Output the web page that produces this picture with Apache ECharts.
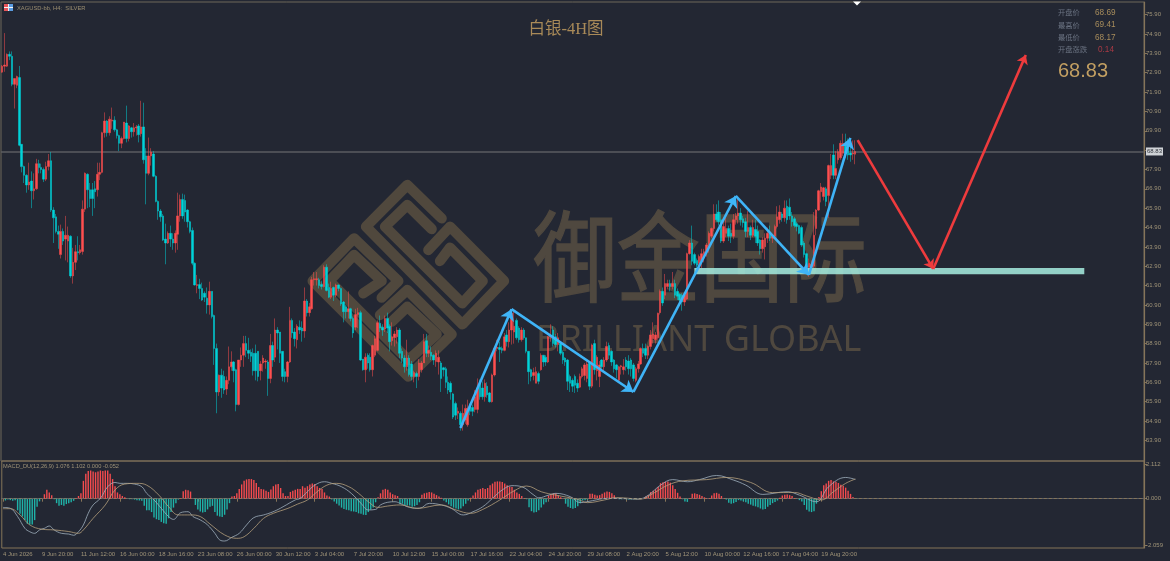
<!DOCTYPE html>
<html><head><meta charset="utf-8">
<style>html,body{margin:0;padding:0;background:#232733}#c{width:1170px;height:561px}</style>
<script src="https://cdn.jsdelivr.net/npm/echarts@6/dist/echarts.min.js"></script>
</head><body><div id="c"></div>
<script>
// open, close, low, high for each H4 bar
const candles=[
[72.93,73.24,72.9,73.3],[73.24,73.3,72.95,74.95],[73.24,73.85,73.2,73.9],[73.85,73.75,73.55,74.0],[73.75,72.3,72.2,74.0],
[72.3,72.6,71.05,72.6],[72.25,72.7,72.1,72.75],[72.65,69.15,69.1,73.25],[69.2,68.05,67.75,69.2],[68.05,67.6,67.2,68.1],
[67.6,67.1,66.7,67.65],[67.1,67.25,66.85,68.25],[67.3,66.8,65.9,67.8],[66.8,66.9,66.35,67.7],[66.9,68.2,66.85,68.45],
[68.2,68.0,67.7,68.4],[68.0,67.9,67.7,68.2],[67.9,67.4,67.25,68.0],[67.4,68.05,67.3,68.3],[68.05,68.35,67.85,68.7],
[68.35,65.8,65.7,68.8],[65.8,65.4,64.1,65.95],[65.45,64.7,64.6,65.6],[64.7,64.55,63.8,65.0],[63.5,64.7,63.3,65.05],
[64.7,64.2,64.0,64.85],[64.3,64.5,63.2,65.5],[64.2,64.5,63.1,64.95],[64.45,62.4,62.3,64.5],[62.4,63.1,62.0,63.85],
[63.1,63.65,62.7,64.0],[63.65,63.6,63.2,64.45],[63.6,63.75,63.5,64.0],[63.66,65.85,63.5,66.3],[65.85,67.7,65.7,67.75],
[67.65,66.85,65.9,67.7],[66.85,66.4,65.95,67.2],[66.85,66.4,65.5,67.2],[66.9,66.75,65.9,67.3],[66.85,67.65,66.5,68.25],
[67.65,67.75,67.35,68.25],[67.75,69.8,67.7,69.85],[69.8,70.4,69.55,70.85],[70.4,69.8,69.6,70.45],[69.8,70.5,69.65,70.65],
[70.4,70.45,70.0,71.1],[70.45,69.95,69.85,70.65],[69.95,69.65,69.5,70.0],[69.65,69.25,68.85,69.7],[69.25,69.5,69.0,69.6],
[69.5,70.35,69.45,70.35],[70.3,69.5,69.3,71.2],[69.5,70.15,69.35,70.2],[70.05,69.85,69.55,70.1],[69.85,70.05,69.6,70.3],
[70.05,70.1,69.65,70.2],[70.15,69.7,69.3,70.25],[69.75,70.1,69.6,71.45],[70.1,68.4,68.2,71.35],[68.6,67.7,66.1,69.0],
[67.7,68.6,67.6,69.55],[68.6,68.8,68.1,69.0],[68.7,67.55,67.5,68.85],[67.55,66.25,66.2,67.6],[66.25,65.75,65.3,66.3],
[65.75,65.45,65.2,65.85],[65.5,64.25,64.2,65.6],[64.3,64.1,63.0,65.1],[64.1,64.6,64.05,64.7],[64.6,64.3,63.9,65.0],
[64.3,64.1,63.75,64.6],[64.1,64.6,63.6,64.75],[64.55,65.5,63.75,66.7],[65.5,66.35,65.2,66.6],[66.35,65.5,65.35,66.65],
[66.3,65.7,65.2,66.6],[65.8,65.2,64.9,65.85],[65.2,64.7,64.6,65.25],[64.75,63.05,62.95,64.9],[63.05,61.93,61.9,63.1],
[61.9,61.95,61.5,62.45],[61.95,61.75,61.2,62.25],[61.75,61.15,61.1,62.05],[61.5,61.3,61.05,61.6],[61.25,60.9,60.45,61.8],
[60.9,61.6,60.4,62.1],[61.6,60.3,60.2,61.6],[60.35,58.65,57.8,60.4],[58.65,56.4,55.3,58.9],[56.4,57.27,56.2,57.3],
[57.27,56.6,56.1,57.6],[57.2,56.5,56.3,57.5],[56.55,57.0,56.25,57.2],[57.0,57.7,56.8,58.75],[57.7,57.95,57.5,58.5],
[57.95,57.5,56.9,58.0],[57.55,55.75,55.4,57.6],[55.75,58.05,55.7,58.05],[58.05,58.3,57.7,58.7],[58.3,58.9,57.7,59.3],
[58.9,58.55,58.2,59.3],[58.55,58.4,58.1,59.2],[58.45,58.25,57.95,58.6],[58.4,57.5,57.25,58.65],[58.4,57.5,57.0,58.85],
[58.5,57.2,56.95,58.5],[57.5,57.85,57.0,58.0],[57.9,58.15,57.45,58.3],[57.95,58.0,57.6,58.1],[57.95,57.1,56.2,58.05],
[57.1,58.8,56.85,59.4],[58.8,58.05,57.7,59.0],[58.2,59.6,57.95,60.2],[59.6,59.45,58.6,59.75],[59.5,58.4,57.9,59.5],
[58.5,57.2,56.95,58.5],[57.45,57.2,56.9,57.6],[57.2,57.95,56.9,58.0],[57.95,60.1,57.9,60.8],[60.1,59.45,59.2,60.2],
[59.5,59.15,58.75,59.7],[59.1,59.8,58.65,59.9],[59.75,59.6,59.4,60.1],[59.7,59.55,59.0,60.05],[59.55,61.1,59.2,61.8],
[61.1,60.5,60.3,61.2],[60.5,60.8,60.3,61.0],[60.7,62.2,60.65,62.35],[62.2,62.25,61.9,62.6],[62.2,62.25,61.9,62.6],
[62.2,61.9,61.75,62.3],[61.95,61.85,61.7,62.15],[61.85,62.85,61.8,62.95],[62.85,61.65,61.6,63.0],[61.8,61.3,61.25,62.0],
[61.3,61.75,61.2,62.1],[61.8,61.4,61.1,61.85],[61.4,61.93,61.3,62.0],[61.93,61.75,61.6,61.95],[61.75,60.95,60.85,61.8],
[61.05,60.55,60.0,61.1],[60.8,60.55,60.2,60.9],[60.55,60.7,60.2,61.6],[60.7,60.2,60.05,60.75],[60.2,59.45,59.2,60.3],
[59.75,60.4,59.6,60.7],[60.4,60.5,59.7,60.75],[60.5,58.05,58.0,60.6],[58.1,57.55,57.5,58.1],[57.55,58.2,56.9,58.4],
[58.3,57.9,57.6,58.4],[58.2,57.55,57.45,58.4],[57.55,58.8,57.2,58.85],[58.3,59.15,58.2,59.3],[58.55,59.98,58.5,60.1],
[59.95,59.7,59.5,60.35],[59.75,59.6,59.3,59.9],[59.65,60.2,59.5,60.35],[60.2,59.7,59.45,60.5],[59.8,59.0,58.5,59.9],
[59.05,59.25,58.8,60.0],[59.2,59.4,58.75,59.55],[59.25,59.6,58.9,59.75],[59.6,58.4,58.15,59.7],[58.5,58.15,57.9,58.65],
[58.15,57.7,57.4,58.3],[57.7,58.15,57.5,59.1],[58.15,57.3,57.2,58.3],[57.85,57.2,57.0,58.0],[57.2,57.4,56.9,57.5],
[57.35,57.2,56.6,57.45],[57.2,57.9,57.0,58.1],[57.55,57.9,57.4,58.0],[57.9,59.0,57.9,59.4],[59.05,58.4,58.2,59.4],
[58.4,58.55,58.2,58.8],[58.45,58.25,58.05,58.75],[58.3,58.05,57.8,58.35],[57.97,58.4,57.7,58.55],[57.95,58.2,57.3,58.55],
[57.9,57.1,56.4,58.0],[57.65,57.55,57.2,57.7],[57.6,56.9,56.6,57.7],[56.9,56.5,56.3,57.2],[56.85,56.4,56.0,56.95],
[56.3,55.1,55.0,56.35],[55.8,55.2,54.95,55.9],[55.3,55.4,55.0,55.6],[55.3,54.7,54.4,55.4],[54.7,55.3,54.4,55.75],
[54.95,55.55,54.75,55.75],[54.7,55.55,54.6,56.0],[55.65,55.4,55.2,55.8],[55.6,55.4,55.15,55.75],[55.5,56.15,55.35,56.5],
[55.5,56.6,55.3,57.1],[56.95,56.15,56.0,57.05],[56.6,56.15,56.0,56.95],[56.15,56.85,55.9,57.05],[56.7,56.25,56.1,56.9],
[56.35,55.9,55.85,56.4],[55.9,57.28,55.85,57.35],[57.28,58.65,57.2,58.7],[58.65,58.72,58.5,59.1],[58.7,58.6,57.95,59.0],
[58.65,58.55,58.4,58.75],[58.55,59.25,58.5,59.45],[59.35,59.0,58.75,59.6],[59.0,59.6,58.7,60.0],[59.6,60.47,58.85,60.65],
[59.5,59.8,58.9,60.6],[60.1,59.2,59.1,60.2],[59.7,59.1,58.95,59.8],[59.1,59.6,59.0,59.75],[59.6,59.2,59.1,59.7],
[59.2,58.5,58.4,59.2],[58.5,57.45,56.8,58.5],[57.55,57.2,56.95,57.6],[57.25,57.4,57.0,57.65],[56.85,57.45,56.85,57.7],
[57.35,56.95,56.8,57.45],[57.55,58.3,57.5,58.4],[58.3,57.95,57.7,58.3],[58.2,57.95,57.75,58.3],[57.95,59.25,57.9,59.3],
[59.25,59.3,59.0,59.9],[59.6,58.9,58.75,59.8],[59.25,58.85,58.7,59.4],[58.85,59.2,58.5,59.45],[58.9,58.4,58.3,59.0],
[58.45,58.05,57.85,58.55],[58.15,57.95,57.75,58.2],[58.05,56.95,56.5,58.1],[57.2,56.85,56.4,57.3],[57.0,56.7,56.4,57.1],
[57.2,56.75,56.35,57.3],[56.85,56.6,56.4,57.05],[56.65,57.2,56.6,57.35],[57.2,57.6,57.1,57.7],[57.25,57.8,57.0,57.9],
[57.1,57.85,56.9,58.0],[57.88,56.7,56.5,57.95],[56.7,58.83,56.6,58.9],[58.9,57.55,57.3,59.1],[57.5,58.2,57.0,58.3],
[57.2,57.8,56.65,58.0],[58.05,57.7,57.5,58.1],[57.7,58.05,57.5,58.2],[58.05,58.75,57.95,59.0],[58.8,58.3,58.1,58.95],
[58.5,57.95,57.75,58.55],[58.05,57.6,57.4,58.1],[57.8,57.55,57.1,57.85],[57.0,57.7,56.9,57.75],[57.7,57.75,57.3,57.8],
[57.55,57.7,57.3,58.1],[58.05,57.7,57.5,58.2],[58.0,57.6,57.3,58.3],[58.05,57.6,57.2,58.15],[57.8,57.1,56.95,57.9],
[57.0,57.6,56.9,57.7],[57.6,57.85,57.4,58.0],[57.85,58.65,57.8,58.7],[58.65,58.4,58.2,58.9],[58.65,58.3,58.1,58.9],
[58.3,58.75,58.1,58.8],[58.75,59.35,58.6,59.6],[59.15,59.4,58.9,60.0],[59.1,59.35,58.9,59.5],[59.2,60.47,59.1,60.5],
[60.5,61.6,60.4,61.7],[61.6,61.0,60.85,61.8],[61.4,62.0,61.2,62.5],[61.85,62.0,61.7,62.2],[62.0,61.85,61.6,62.2],
[61.85,62.0,61.7,62.6],[62.0,61.4,61.25,62.2],[61.6,61.35,61.15,61.75],[61.45,61.15,60.85,61.5],[61.4,61.05,60.6,61.5],
[61.05,61.4,60.85,61.5],[61.2,63.55,61.15,63.6],[63.55,64.1,63.5,64.25],[64.1,63.15,62.95,65.0],[63.5,63.05,62.95,63.6],
[63.2,62.95,62.7,63.3],[63.05,63.4,62.9,63.5],[63.15,63.55,62.8,63.8],[63.5,63.65,63.1,63.8],[63.65,64.0,63.4,64.1],
[64.0,64.6,63.6,64.7],[64.45,64.85,64.35,64.9],[64.85,65.6,64.7,66.1],[65.6,65.3,65.2,66.1],[65.7,65.2,65.0,66.3],
[65.3,64.2,64.1,65.7],[64.2,64.95,64.1,65.4],[64.6,64.85,64.4,65.4],[64.85,64.45,64.2,65.0],[64.6,64.45,64.1,65.1],
[64.45,65.3,64.3,65.6],[65.3,65.5,65.05,65.65],[65.5,65.65,65.1,66.4],[65.65,65.3,65.0,65.9],[65.35,65.15,64.9,65.5],
[65.2,64.7,64.4,65.4],[64.7,64.9,64.4,65.75],[64.9,64.5,64.25,65.0],[64.5,64.9,64.4,65.3],[64.8,64.45,64.1,65.3],
[64.7,64.1,63.95,65.0],[64.25,63.8,63.5,64.3],[63.8,64.25,63.6,64.4],[63.9,64.35,63.25,64.6],[64.35,64.6,64.1,64.9],
[64.6,64.35,64.2,65.0],[64.35,64.45,64.1,64.55],[64.45,64.95,64.3,65.05],[64.95,65.45,64.85,66.0],[65.3,65.7,65.1,66.05],
[65.6,65.4,65.2,65.7],[65.4,65.9,65.2,66.3],[66.0,65.3,65.1,66.3],[65.95,65.5,65.3,66.4],[65.5,65.2,64.95,65.7],
[65.35,65.0,64.9,65.45],[65.1,64.95,64.7,65.2],[65.0,64.6,64.55,65.05],[64.9,64.0,63.9,65.0],[64.1,63.5,63.35,64.2],
[63.55,62.85,62.6,63.6],[62.85,63.05,62.35,63.3],[62.85,63.0,62.6,63.2],[62.9,64.5,62.8,65.7],[64.85,65.8,64.5,65.85],
[65.8,66.8,65.75,66.85],[66.75,67.0,66.2,67.2],[66.5,66.95,66.3,67.0],[66.9,66.25,66.0,67.0],[66.55,68.1,65.4,68.15],
[67.6,68.1,67.4,68.7],[68.65,67.6,67.4,69.2],[67.6,67.95,67.4,68.85],[68.4,68.82,68.2,68.95],[68.5,69.25,68.4,69.4],
[68.74,69.25,68.6,69.75],[69.25,68.74,68.5,69.75],[69.3,68.65,68.4,69.5],[68.75,68.65,68.3,69.45],[68.7,68.75,68.4,69.4],
[68.69,68.83,68.17,69.41]];

const macdHist=[
-0.02,-0.1,-0.05,-0.08,-0.12,-0.08,-0.65,-0.85,-1.0,-1.2,-1.4,-1.45,-1.45,-1.2,-0.45,-0.15,0.03,0.25,0.5,0.35,
0.2,-0.03,-0.25,-0.4,-0.35,-0.4,-0.3,-0.25,-0.2,-0.12,0.02,0.15,0.3,1.0,1.4,1.55,1.58,1.52,1.48,1.52,
1.58,1.55,1.58,1.58,1.4,1.1,0.7,0.35,0.25,0.15,0.08,-0.02,-0.03,-0.03,-0.05,-0.08,-0.1,-0.12,-0.4,-0.65,
-0.65,-0.75,-1.05,-1.15,-1.2,-1.3,-1.38,-1.4,-1.1,-0.75,-0.5,-0.25,-0.05,0.02,0.42,0.5,0.48,0.4,0.0,-0.35,
-0.6,-0.72,-0.78,-0.75,-0.6,-0.45,-0.4,-0.75,-0.95,-1.0,-1.02,-0.9,-0.6,-0.25,0.12,0.15,0.3,0.55,0.8,1.0,
1.08,1.1,1.1,1.05,0.88,0.65,0.55,0.52,0.45,0.38,0.52,0.7,0.8,0.82,0.6,0.3,0.15,0.15,0.38,0.45,
0.5,0.55,0.55,0.7,0.62,0.7,0.8,0.85,0.82,0.7,0.6,0.55,0.35,0.18,0.12,-0.05,-0.15,-0.28,-0.38,-0.5,
-0.58,-0.62,-0.65,-0.7,-0.72,-0.75,-0.82,-0.85,-0.9,-0.92,-0.75,-0.6,-0.5,-0.2,0.08,0.3,0.5,0.55,0.5,0.35,
0.25,0.2,0.15,-0.28,-0.28,-0.35,-0.38,-0.38,-0.45,-0.42,-0.35,-0.2,0.22,0.3,0.33,0.37,0.35,0.28,0.2,0.12,
0.05,-0.1,-0.2,-0.32,-0.42,-0.5,-0.55,-0.6,-0.55,-0.42,-0.28,-0.1,0.05,0.18,0.35,0.5,0.55,0.6,0.55,0.6,
0.75,0.85,0.95,0.97,0.97,0.93,0.85,0.75,0.68,0.65,0.5,0.35,0.27,0.15,0.03,-0.03,-0.48,-0.7,-0.78,-0.75,
-0.65,-0.5,-0.32,-0.2,0.18,0.25,0.3,0.3,0.18,0.08,0.03,-0.28,-0.45,-0.52,-0.57,-0.52,-0.42,-0.25,-0.1,-0.08,
-0.05,0.28,0.28,0.22,0.18,0.2,0.28,0.35,0.4,0.38,0.3,0.2,0.03,-0.03,-0.03,-0.02,-0.03,-0.04,-0.04,-0.03,
-0.03,-0.02,0.0,0.03,0.12,0.2,0.38,0.45,0.52,0.65,0.87,0.92,0.95,0.97,0.9,0.75,0.55,0.33,0.12,-0.03,
-0.15,-0.18,0.03,0.28,0.3,0.27,0.22,0.15,0.08,0.04,0.03,0.18,0.3,0.33,0.28,0.15,0.03,-0.05,-0.22,-0.28,
-0.25,-0.18,-0.08,-0.1,-0.15,-0.2,-0.28,-0.33,-0.4,-0.43,-0.48,-0.55,-0.6,-0.58,-0.45,-0.35,-0.25,-0.18,-0.1,0.05,
0.18,0.22,0.24,0.2,0.15,0.03,-0.02,-0.08,-0.15,-0.35,-0.62,-0.72,-0.75,-0.7,-0.28,0.1,0.42,0.75,0.85,1.0,
1.05,0.97,0.95,0.88,0.78,0.72,0.62,0.45,0.27,0.1,0.0];

// [bar index, value]
const macdLine=[[0,-0.49],[3,-0.54],[6,-1.0],[9,-1.66],[11,-1.85],[13,-1.94],[15,-1.75],[17,-1.66],[19,-1.53],[21,-1.75],[24,-1.94],[27,-1.98],[29,-2.05],[31,-1.85],[33,-1.47],[35,-0.82],[37,-0.35],[40,0.02],[43,0.67],[46,0.91],[48,0.86],[51,0.86],[54,0.82],[57,0.67],[59,0.3],[62,-0.07],[65,-0.54],[68,-1.0],[70,-1.16],[73,-0.78],[76,-0.73],[78,-1.0],[81,-1.19],[84,-1.47],[87,-1.94],[89,-2.31],[91,-2.37],[94,-2.16],[97,-1.94],[100,-1.47],[103,-1.06],[107,-0.91],[110,-0.78],[113,-0.6],[115,-0.45],[120,-0.07],[122,0.02],[125,0.39],[128,0.76],[132,0.95],[135,0.86],[139,0.67],[143,0.3],[147,-0.26],[150,-0.63],[153,-0.6],[155,-0.35],[158,-0.2],[161,-0.17],[163,-0.26],[167,-0.49],[171,-0.54],[175,-0.26],[180,-0.35],[184,-0.54],[189,-0.91],[193,-0.73],[197,-0.45],[201,0.02],[205,0.49],[209,0.73],[213,0.67],[218,0.2],[220,0.05],[224,0.2],[227,0.3],[233,0.11],[237,-0.22],[242,-0.11],[248,0.02],[256,0],[261,-0.02],[265,0.2],[270,0.76],[275,1.07],[281,0.95],[286,1.07],[293,1.3],[300,1.04],[305,0.76],[312,0.24],[322,0.39],[327,0.2],[334,-0.17],[339,0.67],[346,1.19],[350,1.076]];
const signalLine=[[0,-0.56],[3,-0.56],[7,-0.91],[11,-1.47],[16,-1.71],[21,-1.75],[27,-1.84],[31,-1.94],[33,-1.75],[37,-1.1],[42,-0.35],[46,0.49],[50,0.82],[55,0.86],[59,0.76],[64,0.2],[68,-0.45],[72,-0.91],[77,-0.91],[81,-1.0],[85,-1.42],[91,-2.03],[96,-2.22],[99,-2.13],[103,-1.66],[107,-1.1],[111,-0.82],[117,-0.54],[121,-0.3],[125,-0.07],[129,0.39],[133,0.76],[137,0.86],[142,0.67],[146,0.3],[150,-0.17],[154,-0.49],[158,-0.41],[163,-0.35],[170,-0.54],[180,-0.35],[186,-0.63],[192,-0.82],[197,-0.6],[204,-0.07],[210,0.45],[215,0.71],[221,0.39],[227,0.2],[236,-0.04],[240,-0.22],[247,-0.07],[252,0.06],[262,-0.02],[267,0.3],[273,0.76],[279,1.0],[289,1.07],[297,1.19],[307,0.91],[316,0.34],[325,0.35],[330,0.15],[336,-0.07],[341,0.39],[346,0.86],[350,1.102]];

const xLabels=['4 Jun 2026','9 Jun 20:00','11 Jun 12:00','16 Jun 00:00','18 Jun 16:00','23 Jun 08:00','26 Jun 00:00','30 Jun 12:00','3 Jul 04:00','7 Jul 20:00','10 Jul 12:00','15 Jul 00:00','17 Jul 16:00','22 Jul 04:00','24 Jul 20:00','29 Jul 08:00','2 Aug 20:00','5 Aug 12:00','10 Aug 00:00','12 Aug 16:00','17 Aug 04:00','19 Aug 20:00'];
const barsPerLabel=16, totalSlots=469;
const priceTicks=[53.9,54.9,55.9,56.9,57.9,58.9,59.9,60.9,61.9,62.9,63.9,64.9,65.9,66.9,67.9,68.9,69.9,70.9,71.9,72.9,73.9,74.9,75.9];
const lastPrice=68.83;
const macdTickAt=[1.94,0,-2.59], macdTickText=['2.112','0.000','-2.059'];
const blueWave=[[188,54.54],[209,60.68],[259,56.40],[301,66.53],[331,62.45],[348,69.53]];
const redPlan=[[351,69.42],[382,62.76],[420,73.82]];
const supportZone=[[284,62.81],[444,62.48]];
const infoRows=[['开盘价','68.69'],['最高价','69.41'],['最低价','68.17'],['开盘涨跌','0.14']];
// watermark logo centre lines
const logoPaths=[
[[425,130],[322,30],[198,155],[487,448],[612,318],[450,155],[385,225]],
[[395,162],[322,90],[255,155],[487,385],[548,318],[450,218],[420,258]],
[[240,420],[322,345],[455,478],[325,605],[38,318],[162,190],[295,318],[245,368]],
[[190,355],[245,318],[162,240],[88,318],[325,555],[410,478],[322,395],[275,440]]
];

const cats=[];for(let i=0;i<totalSlots;i++){cats.push(i%barsPerLabel===0?(xLabels[i/barsPerLabel]||''):'');}
const tan='#857459', labelCol='#a09478', cjk='"Noto Sans CJK SC"', lat='"Liberation Sans"', small='Liberation Sans';
const segs=(pts)=>pts.slice(1).map((p,k)=>[{coord:pts[k]},{coord:p}]);
const labelShown=(idx)=>idx%barsPerLabel===0&&!!cats[idx];

const g=[];
g.push({type:'group',x:300,y:175,scaleX:1/3,scaleY:1/3,z:0,silent:true,children:logoPaths.map(p=>({type:'polyline',shape:{points:p},style:{stroke:'#50483d',fill:null,lineWidth:31,lineJoin:'round',lineCap:'round'}}))});
g.push({type:'text',x:533,y:207,scaleY:1.18,z:0,silent:true,style:{text:'御金国际',font:'83.5px '+cjk,fill:'#4f483f',stroke:'#4f483f',lineWidth:1.2,textVerticalAlign:'top'}});
g.push({type:'text',x:536,y:323,z:0,silent:true,style:{text:'BRILLIANT GLOBAL',font:'36px "Noto Sans"',fill:'#4f483f',textVerticalAlign:'top'}});
g.push({type:'text',x:566,y:30,z:20,silent:true,style:{text:'白银-4H图',font:'16.5px "Liberation Serif",'+cjk,fill:'#a98a58',textAlign:'center',textVerticalAlign:'middle'}});
// header flag
g.push({type:'rect',x:4,y:4,z:20,shape:{width:9,height:7},style:{fill:'#e8eef5'}});
g.push({type:'rect',x:4,y:4,z:20,shape:{width:4,height:7},style:{fill:'#e8555a'}});
g.push({type:'rect',x:9,y:4,z:20,shape:{width:4,height:7},style:{fill:'#5a9be0'}});
g.push({type:'rect',x:4,y:7,z:20,shape:{width:9,height:1},style:{fill:'#f4f4f4'}});
g.push({type:'text',x:17,y:8,z:20,style:{text:'XAGUSD-bb, H4:  SILVER',font:'5.8px "'+small+'"',fill:'#9a8d70',textVerticalAlign:'middle'}});
g.push({type:'text',x:3,y:466,z:20,style:{text:'MACD_DU(12,26,9) 1.076 1.102 0.000 -0.052',font:'5.7px "'+small+'"',fill:'#a09478',textVerticalAlign:'middle'}});
g.push({type:'polygon',z:20,shape:{points:[[853,1.5],[861,1.5],[857,5.5]]},style:{fill:'#ffffff'}});
infoRows.forEach((r,k)=>{
  const y=12.7+k*12.3;
  g.push({type:'text',x:1058,y:y,z:20,style:{text:r[0],font:'7.3px '+cjk,fill:'#6b7382',textVerticalAlign:'middle'}});
  g.push({type:'text',x:k===3?1098:1095,y:y,z:20,style:{text:r[1],font:'8.2px '+lat,fill:k===3?'#a83a45':'#a88d5c',textVerticalAlign:'middle'}});
});
g.push({type:'text',x:1058,y:71.5,z:20,style:{text:String(lastPrice),font:'20px '+lat,fill:'#c29f62',textVerticalAlign:'middle'}});

const chart=echarts.init(document.getElementById('c'),null,{renderer:'canvas'});
chart.setOption({
 animation:false,backgroundColor:'#232733',graphic:g,
 grid:[
  {left:1,right:26,top:2,height:459,show:true,borderColor:'#6f685a',borderWidth:1,backgroundColor:'transparent'},
  {left:1,right:26,top:461,height:87,show:true,borderColor:tan,borderWidth:1,backgroundColor:'transparent'}
 ],
 xAxis:[
  {type:'category',gridIndex:0,data:cats,axisLine:{show:false},axisTick:{show:false},axisLabel:{show:false},splitLine:{show:false}},
  {type:'category',gridIndex:1,data:cats,position:'bottom',axisLine:{lineStyle:{color:tan}},
   axisTick:{show:true,alignWithLabel:true,length:3,interval:(i)=>labelShown(i),lineStyle:{color:tan}},
   axisLabel:{interval:(i)=>labelShown(i),align:'left',margin:3,fontSize:6,color:labelCol,fontFamily:small,hideOverlap:false,showMinLabel:true,showMaxLabel:true},splitLine:{show:false}}
 ],
 yAxis:[
  {type:'value',gridIndex:0,position:'right',min:52.832,max:76.556,axisLine:{show:true,lineStyle:{color:tan,width:1.2}},
   axisTick:{show:true,length:3,customValues:priceTicks,lineStyle:{color:tan}},
   axisLabel:{customValues:priceTicks,formatter:(v)=>v.toFixed(2),margin:2,fontSize:6,color:labelCol,fontFamily:small},splitLine:{show:false}},
  {type:'value',gridIndex:1,position:'right',min:-2.762,max:2.112,axisLine:{show:true,lineStyle:{color:tan,width:1.2}},
   axisTick:{show:true,length:3,customValues:macdTickAt,lineStyle:{color:tan}},
   axisLabel:{customValues:macdTickAt,formatter:(v)=>macdTickText[macdTickAt.findIndex(t=>Math.abs(t-v)<1e-6)]||'',margin:2,fontSize:6,color:labelCol,fontFamily:small},splitLine:{show:false}}
 ],
 series:[
  {type:'candlestick',xAxisIndex:0,yAxisIndex:0,data:candles,barWidth:2,z:3,
   itemStyle:{color:'#ff4f4f',color0:'#00d3d8',borderColor:'#ff4f4f',borderColor0:'#00d3d8',borderWidth:0.5},
   markLine:{silent:true,symbol:'none',animation:false,z:2,
    lineStyle:{color:'#5b5c62',width:1.6,type:'solid'},
    label:{show:true,position:'end',distance:2,formatter:()=>lastPrice.toFixed(2),backgroundColor:'#cfd2d6',color:'#33363d',fontSize:6,padding:[1,1,1,1],fontFamily:small},
    data:[{yAxis:lastPrice}]}},
  {type:'line',xAxisIndex:0,yAxisIndex:0,data:[],z:6,silent:true,
   markArea:{silent:true,animation:false,z:5,itemStyle:{color:'rgba(163,232,220,0.88)'},data:[[{coord:supportZone[0]},{coord:supportZone[1]}]]}},
  {type:'line',xAxisIndex:0,yAxisIndex:0,data:[],z:7,silent:true,
   markLine:{silent:true,animation:false,z:7,symbol:['none','arrow'],symbolSize:11,lineStyle:{color:'#3fb4f7',width:2.6,type:'solid'},label:{show:false},data:segs(blueWave)}},
  {type:'line',xAxisIndex:0,yAxisIndex:0,data:[],z:7,silent:true,
   markLine:{silent:true,animation:false,z:7,symbol:['none','arrow'],symbolSize:9,lineStyle:{color:'#ee3b3d',width:2.6,type:'solid'},label:{show:false},data:segs(redPlan)}},
  {type:'bar',xAxisIndex:1,yAxisIndex:1,data:macdHist,barWidth:1.4,z:2,
   itemStyle:{color:(p)=>p.value>=0?'#f44b4e':'#1fb3a8'},
   markLine:{silent:true,symbol:'none',animation:false,lineStyle:{color:'#5d6068',width:1,type:[2,3]},label:{show:false},data:[{yAxis:0}]}},
  {type:'line',xAxisIndex:1,yAxisIndex:1,data:macdLine,smooth:0.4,showSymbol:false,z:4,lineStyle:{color:'#9fb0be',width:0.8}},
  {type:'line',xAxisIndex:1,yAxisIndex:1,data:signalLine,smooth:0.4,showSymbol:false,z:4,lineStyle:{color:'#b5a07c',width:0.8}}
 ]
});
</script></body></html>
